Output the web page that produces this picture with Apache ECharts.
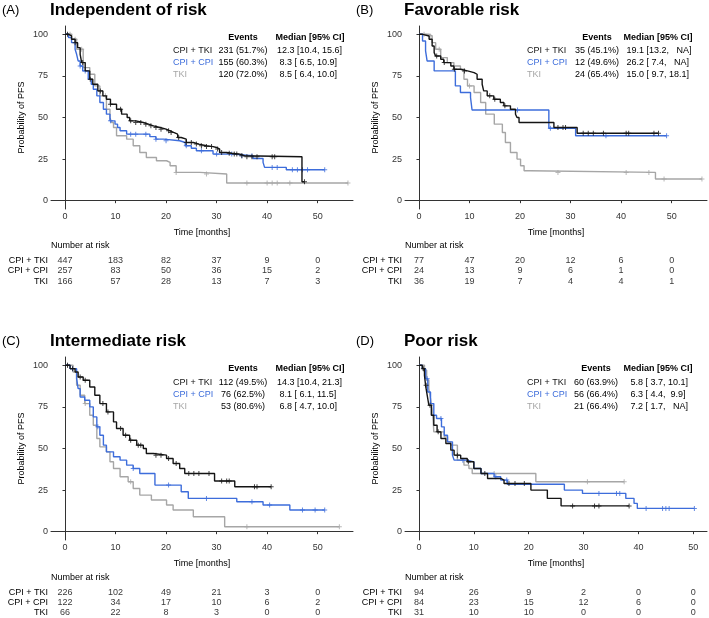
<!DOCTYPE html>
<html>
<head>
<meta charset="utf-8">
<script src="https://cdn.jsdelivr.net/npm/echarts@6/dist/echarts.min.js"></script>
<style>
  html, body { margin: 0; padding: 0; background: #fff; }
  #chart { width: 709px; height: 618px; }
</style>
</head>
<body>
<div id="chart"></div>
<script>
// ---- data ----
var groups = ['CPI + TKI', 'CPI + CPI', 'TKI'];
var xTicks = [0, 10, 20, 30, 40, 50];
var yTicks = [0, 25, 50, 75, 100];

// (A) independent of risk
var aCtTime = [0, 0.7, 1.3, 2, 2.5, 3, 3.3, 4, 4.9, 5.5, 6.5, 7.5, 8.2, 9, 10.2, 11.2, 12.3, 12.8, 14, 15.5, 16.5, 17.5, 18.8, 20, 20.8, 21.5, 22.3, 23, 24, 25.4, 26.5, 28, 29.3, 30, 30.6, 32, 33, 34.6, 35.5, 46.9, 47.4];
var aCtSurv = [100, 99, 97, 95, 92, 88, 83, 78, 73, 70, 66, 63, 61, 58, 55, 52, 50, 48, 47, 46, 45, 44, 43, 42, 41, 40, 38, 37, 35, 34, 33, 32.5, 32, 31, 29, 28.5, 28, 27, 26.4, 11.4, 11.4];
var aCtCens = [0.5, 2, 3.5, 5, 7, 9, 11, 13, 14, 15, 16, 17, 18, 19, 20.5, 21, 22.5, 24, 25, 26, 27, 28, 29, 30.2, 31, 32.5, 33.5, 34, 35, 36, 37, 38, 41, 41.5, 47.4];
var aCcTime = [0, 0.7, 1.3, 2, 2.3, 2.6, 3, 3.5, 4.6, 5.2, 5.6, 6.3, 6.9, 7.6, 8.2, 8.9, 9.9, 10.4, 10.9, 12.2, 16.8, 18, 19.5, 22.7, 23.8, 25, 26, 29.3, 33.3, 37.2, 39.2, 39.5, 43.8, 51.4];
var aCcSurv = [100, 98, 95, 91, 88, 84, 81, 78, 73, 70, 67, 63, 59, 55, 52, 48, 46, 44, 42, 40, 38.5, 37, 36, 35, 33, 31.5, 30, 28, 27, 25.4, 23, 20, 18.6, 18.6];
var aCcCens = [3, 4, 9, 13, 14, 16, 18, 20, 24, 27, 30, 33, 35, 37, 41, 42, 45, 46, 47, 48, 51.4];
var aTkTime = [0, 1.3, 2.3, 3.6, 4.9, 5.9, 6.9, 8.2, 8.9, 9.2, 9.6, 10.2, 12.2, 13.5, 14.8, 16.1, 18.1, 20.1, 20.8, 22, 26.7, 32, 56];
var aTkSurv = [100, 97, 91, 80, 76, 69, 63, 55, 50, 47, 44, 39, 37, 33, 29, 26, 24, 23, 21, 17, 16, 10.6, 10.6];
var aTkCens = [1, 2, 3.3, 8, 22, 28, 36, 40, 41, 42, 44.5, 56];
var aEvents = ['231 (51.7%)', '155 (60.3%)', '120 (72.0%)'];
var aMedian = ['12.3 [10.4, 15.6]', ' 8.3 [ 6.5, 10.9]', ' 8.5 [ 6.4, 10.0]'];
var aRisk = [[447, 183, 82, 37, 9, 0], [257, 83, 50, 36, 15, 2], [166, 57, 28, 13, 7, 3]];

// (B) favorable risk
var bCtTime = [0, 0.7, 2, 2.6, 3, 3.3, 4.3, 4.9, 6.3, 6.9, 8.2, 9.6, 10.9, 11.5, 12.5, 12.8, 13.5, 14.8, 16.1, 16.8, 18.1, 19.1, 19.4, 19.8, 26.7, 31.3, 47.4];
var bCtSurv = [100, 99, 97, 93, 89, 87, 85, 83, 81, 79, 78, 77, 76, 73, 70, 66, 63, 61, 59, 57, 55, 52, 50, 47, 44, 40.5, 40.5];
var bCtCens = [3.5, 5, 7, 9, 14, 15, 17, 27.5, 28.5, 29, 32.5, 33.5, 34.5, 36.5, 41, 41.5, 46.5, 47.4];
var bCcTime = [0, 0.7, 1.3, 1.6, 3, 7.2, 8.2, 10.2, 10.5, 25.7, 31, 49];
var bCcSurv = [100, 96, 90, 84, 78, 69, 65, 62, 54.5, 43.5, 39, 39];
var bCcCens = [19.5, 26, 37, 49];
var bTkTime = [0, 2, 2.6, 3.3, 4.3, 5.6, 6.9, 8.2, 8.9, 9.6, 10.9, 12.2, 13.2, 14.9, 16.5, 17.1, 18.1, 19.4, 20.1, 20.8, 22, 46.8, 56];
var bTkSurv = [100, 99, 95, 91, 86, 83, 81, 79, 73, 69, 65, 59, 52, 46, 41, 35, 29, 25, 21, 18, 17, 13, 13];
var bTkCens = [1, 2.2, 4, 10, 27.5, 41, 45.5, 48.5, 56];
var bEvents = ['35 (45.1%)', '12 (49.6%)', '24 (65.4%)'];
var bMedian = ['19.1 [13.2,   NA]', '26.2 [ 7.4,   NA]', '15.0 [ 9.7, 18.1]'];
var bRisk = [[77, 47, 20, 12, 6, 0], [24, 13, 9, 6, 1, 0], [36, 19, 7, 4, 4, 1]];

// (C) intermediate risk
var cCtTime = [0, 1, 2, 2.6, 3.6, 4.9, 5.9, 6.9, 8.2, 9.6, 10.2, 11.5, 12.8, 14.2, 15.5, 16.1, 17.5, 20.1, 21.4, 22.7, 23.7, 29.6, 33.6, 40.8];
var cCtSurv = [100, 98, 96, 93, 91, 87, 82, 77, 72, 66, 62, 58, 55, 52, 50, 47, 46, 44, 41, 38, 35, 30.5, 27, 27];
var cCtCens = [0.5, 1.5, 3, 4, 7.5, 8.5, 11, 12, 13, 14.5, 15, 18, 19, 20.5, 22, 24.5, 25.5, 26.5, 28.5, 31, 32, 32.5, 37.5, 38, 40.8];
var cCcTime = [0, 1, 2.3, 2.6, 3, 3.9, 4.9, 5.6, 6.3, 6.9, 7.6, 8.2, 9.6, 10.9, 12.2, 13.5, 14.8, 17.8, 23, 24.4, 34, 39.2, 44.5, 51.4];
var cCcSurv = [100, 98, 92, 86, 81, 79, 75, 69, 63, 58, 52, 48, 45, 43, 40, 38, 35, 28, 24, 20, 18, 16, 13, 13];
var cCcCens = [1.5, 6.5, 13.5, 20.5, 28, 37, 40.5, 47, 49.5, 51.4];
var cTkTime = [0, 1.6, 2.3, 3, 3.9, 4.9, 5.6, 6.3, 6.9, 8.2, 8.9, 9.6, 10.9, 12.5, 13.5, 14.8, 17.1, 20.1, 21.4, 25.4, 31.6, 54.3];
var cTkSurv = [100, 96, 88, 82, 77, 70, 64, 56, 51, 48, 42, 38, 33, 30, 26, 22, 19, 16, 13, 9, 3, 3];
var cTkCens = [0.5, 4, 13, 36, 54.3];
var cEvents = ['112 (49.5%)', '76 (62.5%)', '53 (80.6%)'];
var cMedian = ['14.3 [10.4, 21.3]', ' 8.1 [ 6.1, 11.5]', ' 6.8 [ 4.7, 10.0]'];
var cRisk = [[226, 102, 49, 21, 3, 0], [122, 34, 17, 10, 6, 2], [66, 22, 8, 3, 0, 0]];

// (D) poor risk
var dCtTime = [0, 0.6, 1, 1.2, 1.5, 1.8, 2.25, 2.7, 3.3, 4, 4.9, 5.8, 6.4, 7.6, 8.8, 10, 11.3, 12.5, 14.9, 15.5, 20.4, 23.4, 25.9, 38.3];
var dCtSurv = [100, 98, 94, 88, 82, 76, 70, 64, 60, 56, 53, 49, 46, 44, 42, 38, 35, 32, 31, 29, 25, 20, 15.5, 15.5];
var dCtCens = [0.8, 1.3, 2, 3.5, 7, 9, 12, 16.4, 17.5, 19.2, 28, 32, 32.8, 38.3];
var dCcTime = [0, 0.6, 1.2, 1.6, 2.1, 2.7, 3.2, 4.1, 4.6, 5.2, 6.1, 6.4, 8.8, 10, 11.3, 13.7, 14.9, 16.1, 26.5, 29.8, 37.7, 39.2, 39.8, 50.2];
var dCcSurv = [100, 98, 92, 84, 77, 70, 68, 63, 58, 54, 46, 43, 42, 38, 35, 33, 31, 28.5, 25, 23, 20, 17, 14, 14];
var dCcCens = [1.5, 4, 8, 14, 16, 32.8, 36, 36.6, 41.4, 44.4, 45, 45.6, 50.2];
var dTkTime = [0, 1, 1.4, 1.8, 2.1, 2.4, 2.6, 2.7, 4.6, 5.2, 5.8, 7, 8.2, 9.1, 9.7, 21.3, 37.4];
var dTkSurv = [100, 97, 91, 86, 80, 74, 66, 60, 57, 54, 52, 43, 40, 38, 35, 30, 30];
var dTkCens = [1, 13.7, 30.7, 37.4];
var dEvents = ['60 (63.9%)', '56 (66.4%)', '21 (66.4%)'];
var dMedian = [' 5.8 [ 3.7, 10.1]', ' 6.3 [ 4.4,  9.9]', ' 7.2 [ 1.7,   NA]'];
var dRisk = [[94, 26, 9, 2, 0, 0], [84, 23, 15, 12, 6, 0], [31, 10, 10, 0, 0, 0]];

// ---- layout / style ----
var FONT = '"Liberation Sans", Arial, Helvetica, sans-serif';
var COLORS = ['#141414', '#3d6ddb', '#a6a6a6'];
var AXIS = '#333333';
var PLUS = 'path://M4,0H6V4H10V6H6V10H4V6H0V4H4Z';

var panels = [
  { letter: '(A)', title: 'Independent of risk', left: 51, top: 26, xMin: -2.77, xMax: 57,
    curves: [[aCtTime, aCtSurv, aCtCens], [aCcTime, aCcSurv, aCcCens], [aTkTime, aTkSurv, aTkCens]],
    events: aEvents, median: aMedian, risk: aRisk,
    titleY: 10, legY: 37.5, labX: 173, evX: 243, medX: 277, medHeadX: 310, riskTop: 255, nrY: 246 },
  { letter: '(B)', title: 'Favorable risk', left: 405, top: 26, xMin: -2.77, xMax: 57,
    curves: [[bCtTime, bCtSurv, bCtCens], [bCcTime, bCcSurv, bCcCens], [bTkTime, bTkSurv, bTkCens]],
    events: bEvents, median: bMedian, risk: bRisk,
    titleY: 10, legY: 37.5, labX: 527, evX: 597, medX: 626.5, medHeadX: 658, riskTop: 255, nrY: 246 },
  { letter: '(C)', title: 'Intermediate risk', left: 51, top: 357, xMin: -2.77, xMax: 57,
    curves: [[cCtTime, cCtSurv, cCtCens], [cCcTime, cCcSurv, cCcCens], [cTkTime, cTkSurv, cTkCens]],
    events: cEvents, median: cMedian, risk: cRisk,
    titleY: 341, legY: 369, labX: 173, evX: 243, medX: 277, medHeadX: 310, riskTop: 587, nrY: 578 },
  { letter: '(D)', title: 'Poor risk', left: 405, top: 357, xMin: -2.55, xMax: 52.5,
    curves: [[dCtTime, dCtSurv, dCtCens], [dCcTime, dCcSurv, dCcCens], [dTkTime, dTkSurv, dTkCens]],
    events: dEvents, median: dMedian, risk: dRisk,
    titleY: 341, legY: 369, labX: 527, evX: 596, medX: 628, medHeadX: 658, riskTop: 587, nrY: 578 }
];

function survAt(time, surv, t) {
  var v = surv[0];
  for (var i = 0; i < time.length; i++) {
    if (time[i] <= t) v = surv[i];
  }
  return v;
}

function txt(text, x, y, size, color, align, weight) {
  return {
    type: 'text', x: x, y: y, silent: true,
    style: {
      text: text, fill: color,
      font: (weight || 'normal') + ' ' + size + 'px ' + FONT,
      textAlign: align || 'left', align: align || 'left',
      textVerticalAlign: 'middle', verticalAlign: 'middle'
    }
  };
}

var grid = [], xAxis = [], yAxis = [], series = [], graphic = [];

panels.forEach(function (p, i) {
  var gMain = 2 * i, gRisk = 2 * i + 1;
  grid.push({ left: p.left, top: p.top, width: 302, height: 183 });
  grid.push({ left: p.left, top: p.riskTop, width: 302, height: 32 });

  xAxis.push({
    gridIndex: gMain, type: 'value', min: p.xMin, max: p.xMax,
    splitLine: { show: false },
    axisLine: { lineStyle: { color: AXIS, width: 1 } },
    axisTick: { customValues: xTicks, length: 2.5, lineStyle: { color: AXIS } },
    axisLabel: { customValues: xTicks, fontSize: 9, color: AXIS, margin: 3, fontFamily: FONT },
    name: 'Time [months]', nameLocation: 'middle', nameGap: 19,
    nameTextStyle: { fontSize: 9, color: '#000', fontFamily: FONT }
  });
  xAxis.push({ gridIndex: gRisk, type: 'value', min: p.xMin, max: p.xMax, show: false });

  yAxis.push({
    gridIndex: gMain, type: 'value', min: -5, max: 105,
    splitLine: { show: false },
    axisLine: { show: true, lineStyle: { color: AXIS, width: 1 } },
    axisTick: { show: true, customValues: yTicks, length: 2.5, lineStyle: { color: AXIS } },
    axisLabel: { customValues: yTicks, fontSize: 9, color: AXIS, margin: 3, fontFamily: FONT },
    name: 'Probability of PFS', nameLocation: 'middle', nameGap: 25,
    nameTextStyle: { fontSize: 9, color: '#000', fontFamily: FONT }
  });
  yAxis.push({
    gridIndex: gRisk, type: 'category', data: groups, inverse: true,
    axisLine: { show: false }, axisTick: { show: false }, splitLine: { show: false },
    axisLabel: { interval: 0, fontSize: 9, color: '#000', margin: 3, fontFamily: FONT }
  });

  p.curves.forEach(function (c, k) {
    var time = c[0], surv = c[1], cens = c[2];
    series.push({
      type: 'line', xAxisIndex: gMain, yAxisIndex: gMain, step: 'end',
      showSymbol: false, symbol: 'none', silent: true,
      lineStyle: { color: COLORS[k], width: 1.4 },
      data: time.map(function (t, j) { return [t, surv[j]]; }),
      z: 10 - k
    });
    series.push({
      type: 'scatter', xAxisIndex: gMain, yAxisIndex: gMain, silent: true,
      symbol: PLUS, symbolSize: 5, itemStyle: { color: COLORS[k] },
      data: cens.map(function (t) { return [t, survAt(time, surv, t)]; }),
      z: 10 - k
    });
  });

  p.risk.forEach(function (row, r) {
    series.push({
      type: 'scatter', xAxisIndex: gRisk, yAxisIndex: gRisk, silent: true,
      symbolSize: 0, itemStyle: { color: 'transparent' },
      label: {
        show: true, position: 'inside', fontSize: 9, color: '#000', fontFamily: FONT,
        formatter: function (q) { return String(q.value[2]); }
      },
      data: xTicks.map(function (x, k) { return [x, r, row[k]]; })
    });
  });

  // titles
  graphic.push(txt(p.letter, p.left - 49, p.titleY, 13, '#000'));
  graphic.push(txt(p.title, p.left - 1, p.titleY, 17, '#000', 'left', 'bold'));
  // legend table
  graphic.push(txt('Events', p.evX, p.legY, 9, '#000', 'center', 'bold'));
  graphic.push(txt('Median [95% CI]', p.medHeadX, p.legY, 9, '#000', 'center', 'bold'));
  groups.forEach(function (g, k) {
    var y = p.legY + 13.3 + k * 12;
    graphic.push(txt(g, p.labX, y, 9, COLORS[k]));
    graphic.push(txt(p.events[k], p.evX, y, 9, '#000', 'center'));
    graphic.push(txt(p.median[k], p.medX, y, 9, '#000', 'left'));
  });
  graphic.push(txt('Number at risk', p.left, p.nrY, 9, '#000'));
});

var chart = echarts.init(document.getElementById('chart'), null, { renderer: 'canvas' });
chart.setOption({
  animation: false,
  backgroundColor: '#fff',
  grid: grid, xAxis: xAxis, yAxis: yAxis, series: series, graphic: graphic
});
</script>
</body>
</html>
